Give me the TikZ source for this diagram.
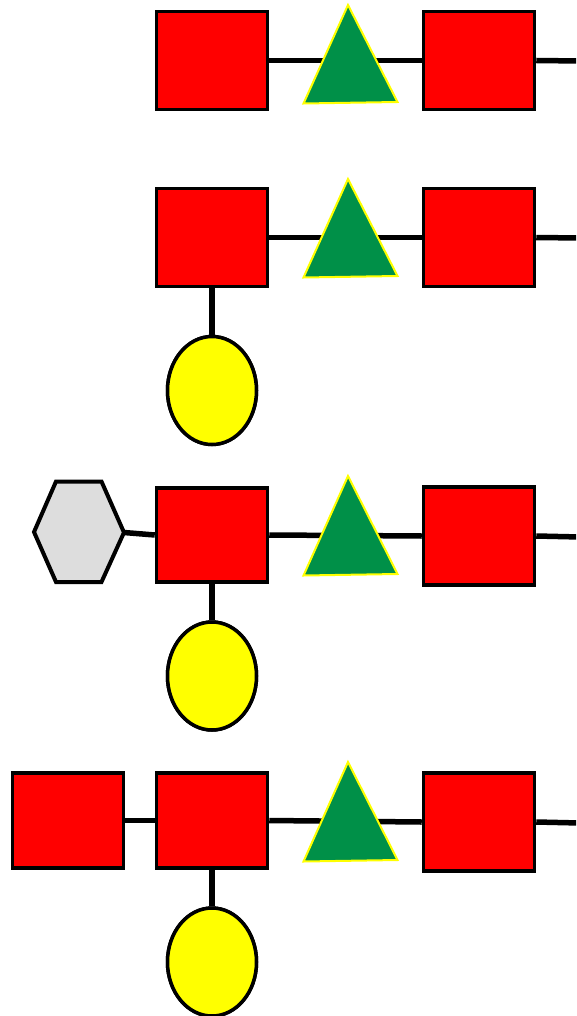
\documentclass[tikz,border=0pt]{standalone}
\usetikzlibrary{shapes.geometric}
\definecolor{glcred}{RGB}{255,0,0}
\definecolor{glcgreen}{RGB}{0,144,72}
\definecolor{glcyellow}{RGB}{255,255,0}
\definecolor{glcgray}{RGB}{221,221,221}
\tikzset{
  sq/.style={draw=black,fill=glcred,line width=3.5pt,rectangle,inner sep=0pt,minimum width=111pt,minimum height=98pt},
  circ/.style={draw=black,fill=glcyellow,line width=3.5pt,ellipse,inner sep=0pt,minimum width=89pt,minimum height=108pt},
  tri/.style={draw=glcyellow,fill=glcgreen,line width=2pt,line join=miter},
  hexa/.style={draw=black,fill=glcgray,line width=4pt,line join=miter},
  link/.style={draw=black,line width=5.5pt}
}
\begin{document}
\begin{tikzpicture}[x=1pt,y=-1pt]
\useasboundingbox (0,0) rectangle (576,1016);
\clip (0,0) rectangle (576,1016);
% ---------- Row 1 ----------
\node[sq] (a1) at (212,60.5) {};
\node[sq] (a2) at (479,60.5) {};
\coordinate (aend) at (580,61);
\draw[link] (a1.east) -- (a2.west);
\draw[link] (a2.east) -- (aend);
\draw[tri] (348,5) -- (397.5,102) -- (303.5,103.5) -- cycle;
\node[sq] at (a1) {};
\node[sq] at (a2) {};
% ---------- Row 2 ----------
\node[sq] (b1) at (212,237.5) {};
\node[sq] (b2) at (479,237.5) {};
\node[circ] (bc) at (212,390.5) {};
\coordinate (bend) at (580,238);
\draw[link] (b1.east) -- (b2.west);
\draw[link] (b2.east) -- (bend);
\draw[link] (b1.south) -- (bc.north);
\draw[tri] (348,179) -- (397.5,276) -- (303.5,277.5) -- cycle;
\node[sq] at (b1) {};
\node[sq] at (b2) {};
\node[circ] at (bc) {};
% ---------- Row 3 ----------
\node[sq,minimum height=94pt] (c1) at (212,535) {};
\node[sq] (c2) at (479,536) {};
\node[circ] (cc) at (212,676) {};
\coordinate (hexr) at (124,532.5);
\coordinate (cend) at (580,537);
\draw[link] (hexr) -- (c1.west);
\draw[link] (c1.east) -- (c2.west);
\draw[link] (c2.east) -- (cend);
\draw[link] (c1.south) -- (cc.north);
\draw[hexa] (34,532) -- (56,481.5) -- (101.5,481.5) -- (hexr) -- (101.5,582) -- (56,582) -- cycle;
\draw[tri] (348,476) -- (397.5,574) -- (303.5,575.5) -- cycle;
\node[sq,minimum height=94pt] at (c1) {};
\node[sq] at (c2) {};
\node[circ] at (cc) {};
% ---------- Row 4 ----------
\node[sq,minimum height=95pt] (d0) at (68,820.5) {};
\node[sq,minimum height=95pt] (d1) at (212,820.5) {};
\node[sq] (d2) at (479,822) {};
\node[circ] (dc) at (212,962) {};
\coordinate (dend) at (580,823);
\draw[link] (d0.east) -- (d1.west);
\draw[link] (d1.east) -- (d2.west);
\draw[link] (d2.east) -- (dend);
\draw[link] (d1.south) -- (dc.north);
\draw[tri] (348,762) -- (397.5,860) -- (303.5,861.5) -- cycle;
\node[sq,minimum height=95pt] at (d0) {};
\node[sq,minimum height=95pt] at (d1) {};
\node[sq] at (d2) {};
\node[circ] at (dc) {};
\end{tikzpicture}
\end{document}
